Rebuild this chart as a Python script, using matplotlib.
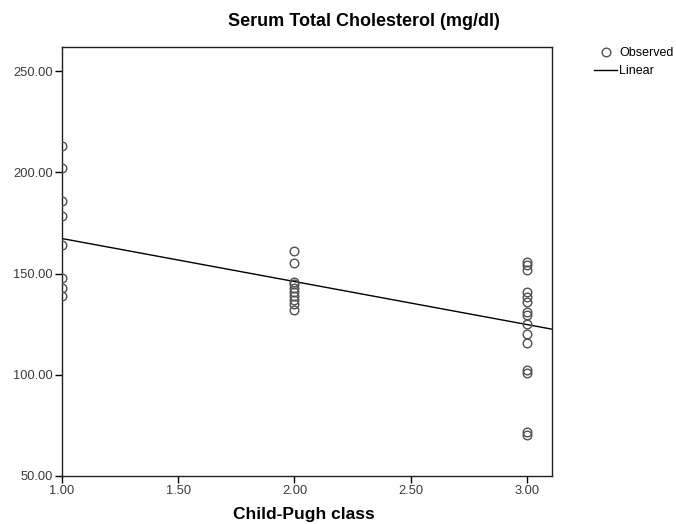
import numpy as np
import matplotlib.pyplot as plt
from matplotlib.lines import Line2D

plt.rcParams['font.family'] = ['Liberation Sans', 'DejaVu Sans']

class1 = [213, 202, 186, 178.5, 164, 148, 143, 139]
class2 = [161, 155.5, 146, 145, 143, 141, 139, 137, 135, 132]
class3 = [156, 154.5, 152, 141, 138.5, 136, 131, 129.5, 125, 120,
          115.5, 102.5, 101, 71.5, 70.5]
# linear fit as drawn (intercept, slope)
fit_intercept = 188.6
fit_slope = -21.25

x_obs = [1.0] * len(class1) + [2.0] * len(class2) + [3.0] * len(class3)
y_obs = class1 + class2 + class3

xticks = [1.0, 1.5, 2.0, 2.5, 3.0]
yticks = [50, 100, 150, 200, 250]

fig = plt.figure(figsize=(6.76, 5.24), dpi=100)
ax = fig.add_axes([62/676, 48/524, 490/676, 429/524])

# points at x=1 get cut by the left frame, as in the original
ax.plot(x_obs, y_obs, 'o', mfc='none', mec='#505050', mew=1.0, ms=6.2,
        zorder=3)
xs = np.array([1.0, 3.108])
ax.plot(xs, fit_intercept + fit_slope * xs, color='black', lw=1.0, zorder=2)

ax.set_xlim(1.0, 3.108)
ax.set_ylim(50, 262)
ax.set_xticks(xticks)
ax.set_xticklabels([f'{t:.2f}' for t in xticks])
ax.set_yticks(yticks)
ax.set_yticklabels([f'{t:.2f}' for t in yticks])
ax.tick_params(direction='out', length=5, width=1, labelsize=9.3,
               colors='black', labelcolor='#3a3a3a', pad=1.5)
for s in ax.spines.values():
    s.set_linewidth(1.0)
    s.set_color('#202020')

fig.text(364/676, 1 - 21/524, 'Serum Total Cholesterol (mg/dl)',
         ha='center', va='center', fontsize=13, fontweight='bold')
fig.text(304/676, 1 - 515/524, 'Child-Pugh class',
         ha='center', va='center', fontsize=12.5, fontweight='bold')

handles = [Line2D([], [], ls='none', marker='o', mfc='none', mec='#505050',
                  mew=1.0, ms=6.2),
           Line2D([], [], color='black', lw=1.0)]
fig.legend(handles, ['Observed', 'Linear'], loc='upper left',
           bbox_to_anchor=(594/676, 1 - 47/524), frameon=False,
           fontsize=9, handlelength=1.85, handletextpad=0.15,
           labelspacing=0.5, borderpad=0, borderaxespad=0)

fig.savefig('out.png', dpi=100)
